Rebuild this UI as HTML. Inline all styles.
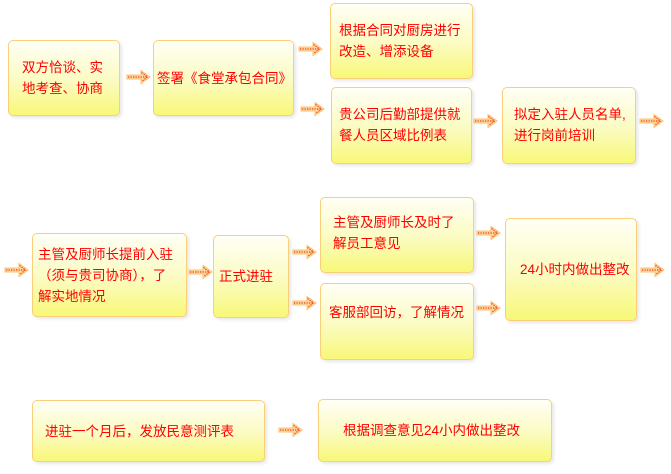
<!DOCTYPE html>
<html><head><meta charset="utf-8"><style>
body{margin:0;width:671px;height:474px;background:#fff;position:relative;overflow:hidden;font-family:"Liberation Sans","Noto Sans CJK SC",sans-serif}
.b{position:absolute;box-sizing:border-box;border:1px solid #f9cf79;border-radius:5px;background:linear-gradient(#fffff6 0%,#fbfbc0 55%,#f8f878 100%);box-shadow:2px 2px 3px #e8e8e8;color:#f00;font-size:13.5px;line-height:21px;display:flex;align-items:center;padding:0 0 0 8px;white-space:nowrap;overflow:visible}
.a{position:absolute;width:26px;height:16px}
</style></head><body>
<div class="b" style="left:8px;top:40px;width:112px;height:76px;padding-left:13px">双方恰谈、实<br>地考查、协商</div>
<div class="b" style="left:153px;top:40px;width:141px;height:76px;padding-left:3px">签署《食堂承包合同》</div>
<div class="b" style="left:330px;top:3px;width:143px;height:76px;padding-left:8px;align-items:flex-start;padding-top:16px">根据合同对厨房进行<br>改造、增添设备</div>
<div class="b" style="left:331px;top:87px;width:141px;height:77px;padding-left:7px;align-items:flex-start;padding-top:16px">贵公司后勤部提供就<br>餐人员区域比例表</div>
<div class="b" style="left:502px;top:87px;width:134px;height:77px;padding-left:11px;align-items:flex-start;padding-top:16px">拟定入驻人员名单,<br>进行岗前培训</div>
<div class="b" style="left:32px;top:233px;width:155px;height:84px;padding-left:5px">主管及厨师长提前入驻<br>（须与贵司协商），了<br>解实地情况</div>
<div class="b" style="left:213px;top:235px;width:76px;height:83px;padding-left:5px">正式进驻</div>
<div class="b" style="left:320px;top:197px;width:154px;height:76px;padding-left:12px;align-items:flex-start;padding-top:14px">主管及厨师长及时了<br>解员工意见</div>
<div class="b" style="left:320px;top:283px;width:154px;height:77px;padding-left:8px;align-items:flex-start;padding-top:18px">客服部回访，了解情况</div>
<div class="b" style="left:505px;top:218px;width:132px;height:103px;padding-left:14px">24小时内做出整改</div>
<div class="b" style="left:32px;top:400px;width:233px;height:62px;padding-left:12px">进驻一个月后，发放民意测评表</div>
<div class="b" style="left:318px;top:399px;width:234px;height:63px;padding-left:24px">根据调查意见24小内做出整改</div>
<svg width="0" height="0" style="position:absolute"><defs><g id="ar">
<path d="M1 6 H15 V1.5 L24 8 L15 14.5 V10 H1Z" fill="#fdd9a0" stroke="#fcc070" stroke-width="1"/>
<line x1="2" y1="8" x2="21" y2="8" stroke="#f04010" stroke-width="1.3" stroke-dasharray="1.3 1.2"/>
<path d="M15.5 3.5 L21.5 8 L15.5 12.5" fill="none" stroke="#f04010" stroke-width="1.2" stroke-dasharray="1.3 1.2"/>
</g></defs></svg>
<svg class="a" style="left:126px;top:69px"><use href="#ar"/></svg>
<svg class="a" style="left:298px;top:41px"><use href="#ar"/></svg>
<svg class="a" style="left:300px;top:101px"><use href="#ar"/></svg>
<svg class="a" style="left:473px;top:113px"><use href="#ar"/></svg>
<svg class="a" style="left:639px;top:113px"><use href="#ar"/></svg>
<svg class="a" style="left:4px;top:262px"><use href="#ar"/></svg>
<svg class="a" style="left:188px;top:264px"><use href="#ar"/></svg>
<svg class="a" style="left:292px;top:244px"><use href="#ar"/></svg>
<svg class="a" style="left:292px;top:295px"><use href="#ar"/></svg>
<svg class="a" style="left:476px;top:225px"><use href="#ar"/></svg>
<svg class="a" style="left:476px;top:300px"><use href="#ar"/></svg>
<svg class="a" style="left:640px;top:262px"><use href="#ar"/></svg>
<svg class="a" style="left:278px;top:422px"><use href="#ar"/></svg>
</body></html>
